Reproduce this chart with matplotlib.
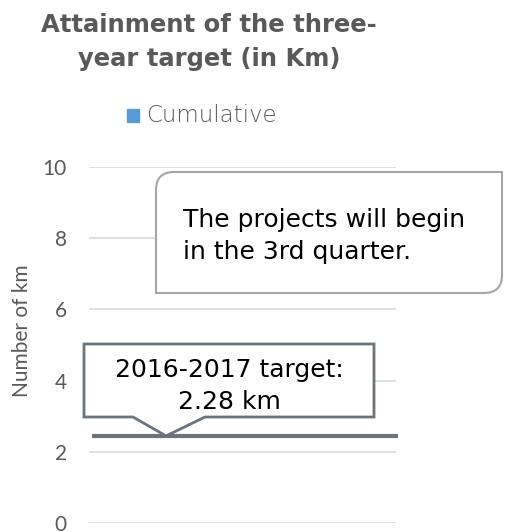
import matplotlib
matplotlib.use("Agg")
import matplotlib.pyplot as plt
from matplotlib.patches import Polygon
from matplotlib.path import Path
from matplotlib.patches import PathPatch

# ---- data ----
title = "Attainment of the three-\nyear target (in Km)"
series_name = "Cumulative"
y_label = "Number of km"
y_ticks = [0, 2, 4, 6, 8, 10]
y_tick_labels = ["0", "2", "4", "6", "8", "10"]
target_x = [0, 1]
target_values = [2.45, 2.45]
target_text = "2016-2017 target:\n2.28 km"
note_text = "The projects will begin\nin the 3rd quarter."

W, H = 507, 532
fig = plt.figure(figsize=(W / 100, H / 100), dpi=100)
fig.patch.set_facecolor("white")

def fx(px):
    return px / W

def fy(py):
    return 1 - py / H

ax = fig.add_axes([fx(89), fy(523.3), (396 - 89) / W, (523.3 - 166.7) / H])
ax.set_xlim(0, 1)
ax.set_ylim(0, 10)
ax.set_yticks(y_ticks, labels=y_tick_labels, fontsize=15, color="#595959",
              family="Lato")
ax.set_xticks([])
for s in ax.spines.values():
    s.set_visible(False)
ax.tick_params(axis="y", length=0, pad=16)
ax.grid(axis="y", color="#d9d9d9", linewidth=1.2)
ax.set_axisbelow(True)
ax.set_ylabel(y_label, fontsize=15, color="#595959", family="Lato")
ax.yaxis.set_label_coords(-0.185, 0.54)

# target line
ax.plot([target_x[0] + 0.01, target_x[1] + 0.007], target_values, color="#6b747c",
        linewidth=3, solid_capstyle="butt", clip_on=False, zorder=3)

# legend-like entry for series
fig.patches.append(plt.Rectangle((fx(127), fy(122)), 12 / W, 13 / H,
                                 transform=fig.transFigure, color="#5b9bd5"))
fig.text(fx(146), fy(116), series_name, fontsize=16.5, color="#595959",
         family="DejaVu Sans", va="center", ha="left", fontweight="light")

# title
fig.text(fx(209), fy(42), title, fontsize=17.5, fontweight="bold", color="#595959",
         ha="center", va="center", family="DejaVu Sans", linespacing=1.5)

# overlay in pixel coords for callouts
ov = fig.add_axes([0, 0, 1, 1], facecolor="none")
ov.set_xlim(0, W)
ov.set_ylim(H, 0)
ov.axis("off")

tip_disp = ax.transData.transform((0.251, target_values[0]))
tip_px = ov.transData.inverted().transform(tip_disp)
poly = [(84, 344), (374, 344), (374, 417), (205, 417), (tip_px[0], tip_px[1]),
        (133, 417), (84, 417)]
ov.add_patch(Polygon(poly, closed=True, facecolor="white", edgecolor="#6b747c",
                     linewidth=2, joinstyle="miter", zorder=4))
ov.text(229, 386, target_text, fontsize=18, color="black", ha="center", va="center",
        family="DejaVu Sans", linespacing=1.4, zorder=5)

# rounded diagonal-corner callout
x0, x1, y0, y1, r = 156, 502, 172, 293, 18
verts = [(x0, y0 + r), (x0, y0), (x0 + r, y0),
         (x1, y0), (x1, y1 - r), (x1, y1), (x1 - r, y1),
         (x0, y1), (x0, y0 + r)]
codes = [Path.MOVETO, Path.CURVE3, Path.CURVE3,
         Path.LINETO, Path.LINETO, Path.CURVE3, Path.CURVE3,
         Path.LINETO, Path.CLOSEPOLY]
ov.add_patch(PathPatch(Path(verts, codes), facecolor="white", edgecolor="#a6a6a6",
                       linewidth=1.5, zorder=4))
ov.text(183, 236, note_text, fontsize=18, color="black", ha="left", va="center",
        family="DejaVu Sans", linespacing=1.45, zorder=5)

fig.savefig("out.png", dpi=100)
